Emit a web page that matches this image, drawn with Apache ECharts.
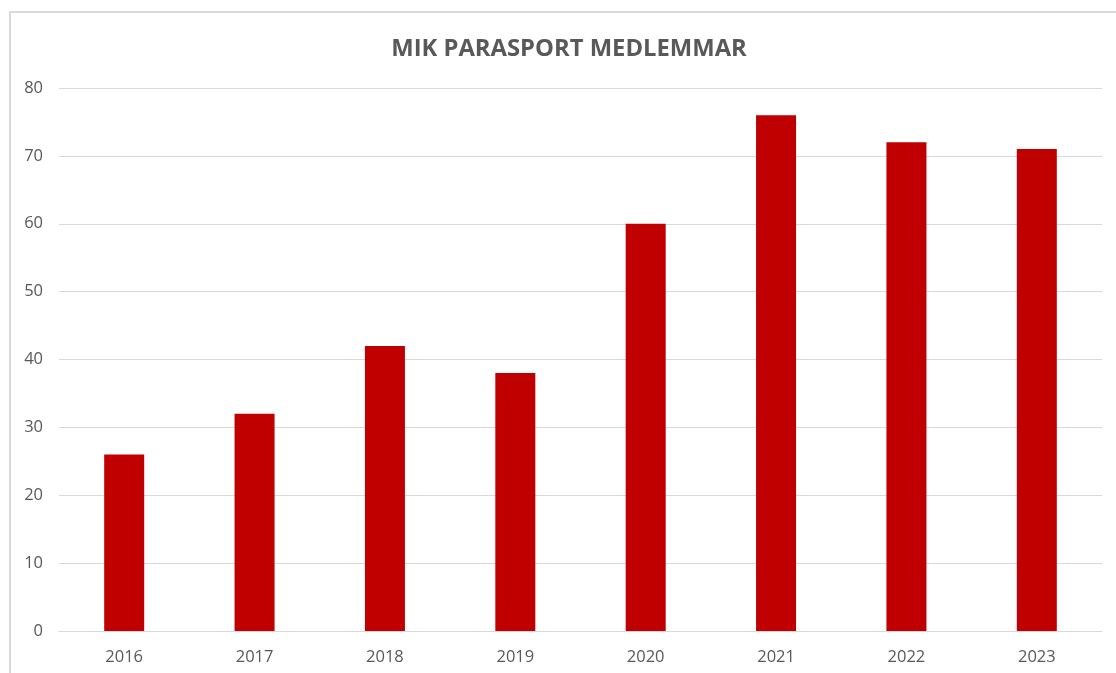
<!DOCTYPE html>
<html><head><meta charset="utf-8">
<script src="https://cdn.jsdelivr.net/npm/echarts@6/dist/echarts.min.js"></script>
<style>html,body{margin:0;padding:0;background:#fff;}#c{width:1116px;height:673px;}</style>
</head><body><div id="c"></div>
<script>
const titleText = 'MIK PARASPORT MEDLEMMAR';
const categories = ['2016','2017','2018','2019','2020','2021','2022','2023'];
const members = [26, 32, 42, 38, 60, 76, 72, 71];

const chart = echarts.init(document.getElementById('c'), null, {renderer:'canvas'});
chart.setOption({
  animation: false,
  backgroundColor: '#ffffff',
  graphic: [{
    type: 'rect', silent: true, z: -1,
    shape: {x: 10, y: 12, width: 1200, height: 800},
    style: {fill: 'none', stroke: '#d9d9d9', lineWidth: 2}
  }],
  title: {
    text: titleText, left: 564, top: 32, textAlign: 'center',
    textStyle: {fontFamily: 'Open Sans', fontWeight: 'bold', fontSize: 23.8, color: '#595959'}
  },
  grid: {left: 59, right: 14, top: 88, bottom: 42, containLabel: false},
  xAxis: {
    type: 'category', data: categories,
    axisLine: {show: true, lineStyle: {color: '#d9d9d9', width: 1}},
    axisTick: {show: false},
    axisLabel: {color: '#595959', fontFamily: 'Open Sans', fontSize: 16.5, margin: 18}
  },
  yAxis: {
    type: 'value', min: 0, max: 80, interval: 10,
    axisLine: {show: false}, axisTick: {show: false},
    splitLine: {lineStyle: {color: '#d9d9d9', width: 1}},
    axisLabel: {color: '#595959', fontFamily: 'Open Sans', fontSize: 16.5, margin: 16}
  },
  series: [{
    type: 'bar', data: members, barWidth: 40,
    itemStyle: {color: '#c00000'}
  }]
});
</script></body></html>
